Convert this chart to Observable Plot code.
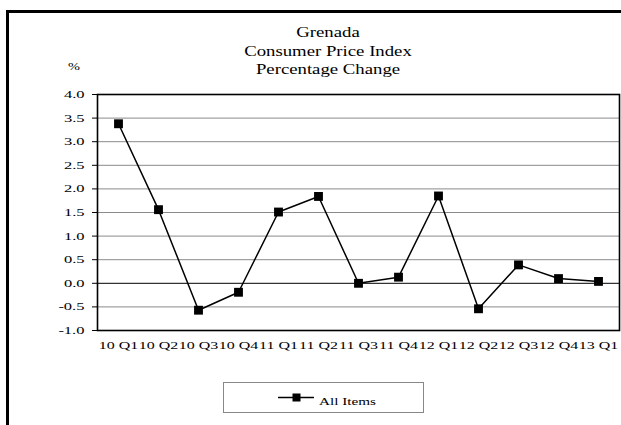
<!DOCTYPE html>
<html>
<head>
<meta charset="utf-8">
<script src="https://cdn.jsdelivr.net/npm/d3@7"></script>
<script src="https://cdn.jsdelivr.net/npm/@observablehq/plot@0.6"></script>
<style>
  html, body { margin: 0; padding: 0; background: white; overflow: hidden; }
  body { width: 621px; height: 425px; position: relative; font-family: "Liberation Serif", "Times New Roman", serif; color: black; }
  #frame { position: absolute; left: 6px; top: 10px; width: 700px; height: 500px; border: 3px solid black; box-sizing: border-box; }
  #title { position: absolute; left: 0; top: 23px; width: 656px; text-align: center; font-size: 15px; line-height: 18.5px; transform: scaleX(1.25); transform-origin: 328px 0; }
  #pct { position: absolute; left: 0; top: 61px; width: 148px; text-align: center; font-size: 11px; line-height: 11px; transform: scaleX(1.3); transform-origin: 74px 0; }
  #chart { position: absolute; left: 0; top: 0; }
  #legend { position: absolute; left: 223px; top: 382px; width: 201px; height: 31px; border: 1px solid #888; box-sizing: border-box; }
  #legend svg { position: absolute; left: 0; top: 0; }
  #legtext { position: absolute; left: 95px; top: 12.5px; font-size: 11px; line-height: 11px; white-space: nowrap; transform: scaleX(1.38); transform-origin: 0 0; }
</style>
</head>
<body>
<div id="frame"></div>
<div id="title"></div>
<div id="pct">%</div>
<div id="chart"></div>
<div id="legend"></div>
<script>
// ---- data ----
const titleLines = ["Grenada", "Consumer Price Index", "Percentage Change"];
const unitLabel = "%";
const quarters = ["10 Q1", "10 Q2", "10 Q3", "10 Q4", "11 Q1", "11 Q2", "11 Q3", "11 Q4", "12 Q1", "12 Q2", "12 Q3", "12 Q4", "13 Q1"];
const allItems = [3.38, 1.56, -0.57, -0.19, 1.51, 1.84, 0.00, 0.13, 1.85, -0.54, 0.39, 0.10, 0.04];
const yTicks = [-1.0, -0.5, 0.0, 0.5, 1.0, 1.5, 2.0, 2.5, 3.0, 3.5, 4.0];
const seriesName = "All Items";

const data = quarters.map((q, i) => ({q, v: allItems[i]}));

document.getElementById("title").innerHTML = titleLines.map(t => `<div>${t}</div>`).join("");
document.getElementById("pct").textContent = unitLabel;

const chart = Plot.plot({
  width: 621,
  height: 425,
  marginLeft: 97,
  marginRight: 2,
  marginTop: 94,
  marginBottom: 95,
  style: {background: "none", fontFamily: "'Liberation Serif', 'Times New Roman', serif", fontSize: "11px", color: "black", overflow: "visible"},
  x: {type: "point", domain: quarters, padding: 0.5, tickSize: 0, tickPadding: 11, label: null},
  y: {domain: [-1, 4], ticks: yTicks, tickSize: 5, tickPadding: 8, tickFormat: d => d.toFixed(1), label: null},
  marks: [
    Plot.ruleY(yTicks.filter(d => d !== 0), {stroke: "#8a8a8a", strokeWidth: 1}),
    Plot.ruleY([0], {stroke: "black", strokeWidth: 1}),
    Plot.frame({stroke: "black", strokeWidth: 1.6}),
    Plot.line(data, {x: "q", y: "v", stroke: "black", strokeWidth: 1.5}),
    Plot.dot(data, {x: "q", y: "v", symbol: "square", r: 5, fill: "black", stroke: "none"})
  ]
});
document.getElementById("chart").appendChild(chart);

// stretch the text horizontally like the reference
chart.querySelectorAll("text").forEach(t => {
  const inY = t.closest("[aria-label^='y-axis']");
  const ratio = inY ? 1.5 : 1.45;
  const w = t.getComputedTextLength();
  if (w > 0) {
    t.setAttribute("textLength", w * ratio);
    t.setAttribute("lengthAdjust", "spacingAndGlyphs");
  }
});

// legend
const leg = document.getElementById("legend");
const ns = "http://www.w3.org/2000/svg";
const ls = document.createElementNS(ns, "svg");
ls.setAttribute("width", 201); ls.setAttribute("height", 31);
const ln = document.createElementNS(ns, "line");
ln.setAttribute("x1", 54); ln.setAttribute("x2", 90); ln.setAttribute("y1", 14.5); ln.setAttribute("y2", 14.5);
ln.setAttribute("stroke", "black"); ln.setAttribute("stroke-width", 1.5);
const sq = document.createElementNS(ns, "rect");
sq.setAttribute("x", 68.5); sq.setAttribute("y", 10.5); sq.setAttribute("width", 8); sq.setAttribute("height", 8);
sq.setAttribute("fill", "black");
ls.appendChild(ln); ls.appendChild(sq);
leg.appendChild(ls);
const lt = document.createElement("div");
lt.id = "legtext"; lt.textContent = seriesName;
leg.appendChild(lt);
</script>
</body>
</html>
